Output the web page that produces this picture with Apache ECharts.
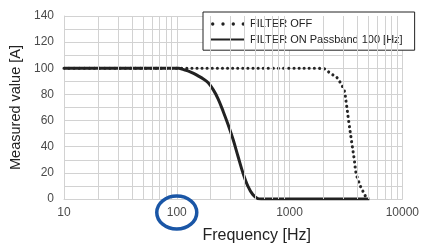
<!DOCTYPE html>
<html><head><meta charset="utf-8">
<script src="https://cdn.jsdelivr.net/npm/echarts@6/dist/echarts.min.js"></script>
<style>html,body{margin:0;padding:0;background:#fff}#c{width:422px;height:249px}</style>
</head><body><div id="c"></div>
<script>
// Data
const xTicks = [10, 100, 1000, 10000];
const yTicks = [0, 20, 40, 60, 80, 100, 120, 140];
const minorFreqs = [20,30,40,50,60,70,80,90,200,300,400,500,600,700,800,900,2000,3000,4000,5000,6000,7000,8000,9000];
const filterOff = [[10,100],[100,100],[1000,100],[1700,100],[2015,99.7],[2300,96.1],[2630,92.9],[2870,87.8],[3055,83],[3200,72],[3340,60],[3570,42.4],[3750,30],[3890,19.7],[4085,13.8],[4300,8.8],[4610,3.8],[4830,0]];
const filterOn = [[10,100],[30,100],[60,100],[100,100],[104,100],[115,99],[127,97.9],[141,96.1],[156,94],[172,91.8],[190,89],[211,83.5],[233,76.5],[258,67],[285,57],[316,45.5],[349,32.7],[386,20],[427,9.8],[472,3.4],[523,0.3],[560,0],[1000,0],[2000,0],[5100,0]];
const legendNames = ['FILTER OFF', 'FILTER ON Passband 100 [Hz]'];
const xName = 'Frequency [Hz]';
const yName = 'Measured value [A]';

const chart = echarts.init(document.getElementById('c'), null, {renderer:'canvas'});
const gridColor = '#d2d2d2';
const font = 'Liberation Sans';
// legend key for the dotted series: four round dots (tiny corner marks fix the icon box)
const dotIcon = 'path://M0,0L0.01,0L0.01,0.01ZM34,14L33.99,14L33.99,13.99Z' +
  [1.7, 12.0, 22.3, 32.3].map(cx => `M${cx-1.7},7a1.7,1.7 0 1,0 3.4,0a1.7,1.7 0 1,0 -3.4,0Z`).join('');
chart.setOption({
  animation: false,
  backgroundColor: '#fff',
  color: ['#222', '#222', '#222', '#222'],
  grid: {left: 64, right: 16, top: 16, bottom: 47.5},
  xAxis: {
    type: 'log', logBase: 10, min: xTicks[0], max: xTicks[xTicks.length-1],
    axisLine: {show: true, lineStyle: {color: gridColor}},
    axisTick: {show: false},
    splitLine: {show: true, lineStyle: {color: gridColor, width: 1}},
    axisLabel: {fontFamily: font, fontSize: 12, color: '#4a4a4a', margin: 8, formatter: v => String(Math.round(v))},
    name: xName, nameLocation: 'middle', nameGap: 29,
    nameTextStyle: {fontFamily: font, fontSize: 16, color: '#222', padding: [0,0,0,47]}
  },
  yAxis: {
    type: 'value', min: yTicks[0], max: yTicks[yTicks.length-1], interval: 20,
    axisLine: {show: true, lineStyle: {color: gridColor}},
    axisTick: {show: false},
    minorTick: {show: false, splitNumber: 2},
    splitLine: {show: true, lineStyle: {color: gridColor, width: 1}},
    minorSplitLine: {show: true, lineStyle: {color: gridColor, width: 1}},
    axisLabel: {fontFamily: font, fontSize: 12, color: '#4a4a4a', margin: 10},
    name: yName, nameLocation: 'middle', nameGap: 34,
    nameTextStyle: {fontFamily: font, fontSize: 14.5, color: '#222'}
  },
  legend: {
    left: 203, top: 12, orient: 'vertical',
    itemWidth: 34, itemHeight: 14, itemGap: 3,
    padding: [5, 12, 5, 7],
    backgroundColor: '#fff', borderColor: '#222', borderWidth: 1,
    textStyle: {fontFamily: font, fontSize: 11, color: '#222'},
    data: [
      {name: legendNames[0], icon: dotIcon, itemStyle: {color: '#222', opacity: 1, borderWidth: 0}},
      {name: legendNames[1], itemStyle: {opacity: 0}}
    ]
  },
  series: [
    // legend-only entry (no data) so the FILTER OFF key uses the dotted icon
    {
      type: 'scatter', name: legendNames[0], data: [], symbol: 'none',
      itemStyle: {color: '#222'}
    },
    {
      type: 'line', name: 'grid', data: [], z: 1, silent: true,
      markLine: {
        silent: true, symbol: 'none', label: {show: false},
        lineStyle: {color: gridColor, type: 'solid', width: 1},
        data: minorFreqs.map(v => ({xAxis: v}))
      }
    },
    {
      type: 'line', name: legendNames[0], data: filterOff, z: 3,
      showSymbol: false, symbol: 'none', smooth: 0.35,
      itemStyle: {color: '#222'},
      lineStyle: {color: '#262626', width: 3.1, type: [0.01, 5.1], cap: 'round'}
    },
    {
      type: 'line', name: legendNames[1], data: filterOn, z: 4,
      showSymbol: false, symbol: 'none', smooth: 0.35,
      itemStyle: {color: '#222'},
      lineStyle: {color: '#222', width: 3}
    }
  ]
});
const px = chart.convertToPixel({xAxisIndex: 0}, 100);
const py = chart.convertToPixel({yAxisIndex: 0}, 0);
chart.setOption({
  graphic: [{
    type: 'ellipse', z: 100,
    shape: {cx: px, cy: py + 13.5, rx: 20, ry: 16.5},
    style: {fill: 'none', stroke: '#1a56a6', lineWidth: 3.5}
  }]
});
</script></body></html>
